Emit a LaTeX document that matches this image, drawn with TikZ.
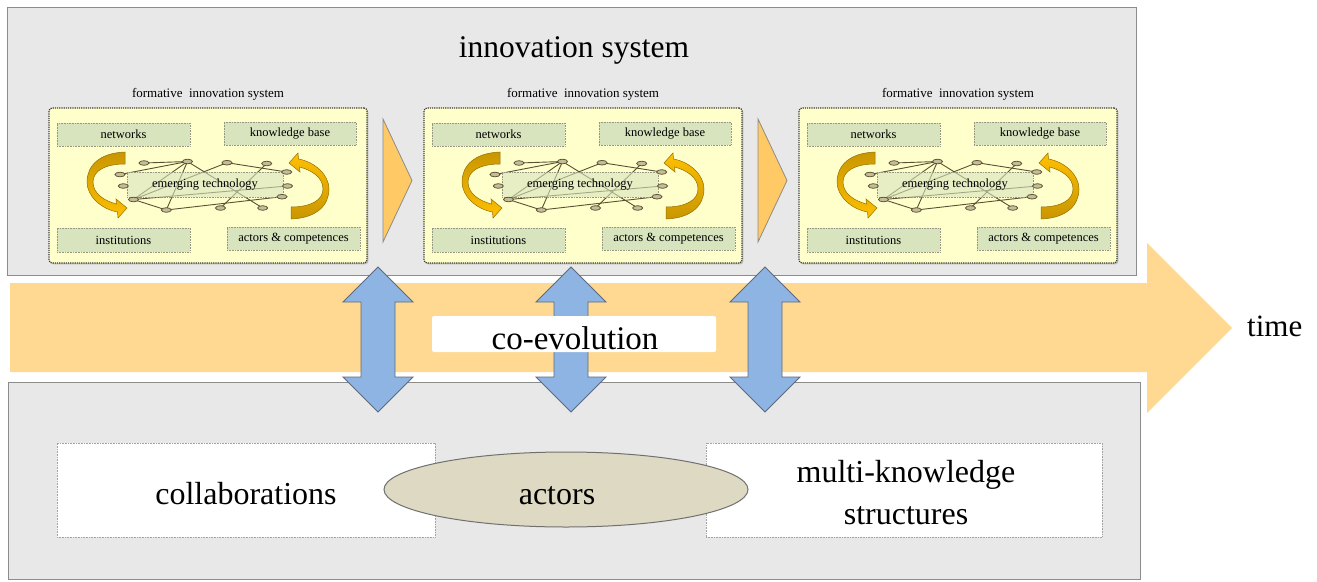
\documentclass[tikz,border=0pt]{standalone}
\usepackage{fontspec}
\setmainfont{Liberation Serif}
\newfontfamily\diagramfont{Liberation Serif}
\usetikzlibrary{shapes.geometric,shadows}

\definecolor{panelgray}{RGB}{232,232,232}
\definecolor{panelline}{RGB}{140,140,140}
\definecolor{timeband}{RGB}{255,217,146}
\definecolor{stagetri}{RGB}{255,201,102}
\definecolor{linkblue}{RGB}{141,180,226}
\definecolor{linkblueline}{RGB}{95,105,125}
\definecolor{fisfill}{RGB}{255,255,204}
\definecolor{fisline}{RGB}{60,60,50}
\definecolor{factorfill}{RGB}{215,228,189}
\definecolor{factorline}{RGB}{150,150,130}
\definecolor{nodefill}{RGB}{196,189,151}
\definecolor{nodeline}{RGB}{95,85,55}
\definecolor{edgecol}{RGB}{90,80,50}
\definecolor{golddark}{RGB}{200,150,0}
\definecolor{goldbright}{RGB}{255,192,0}
\definecolor{goldline}{RGB}{150,110,0}
\definecolor{actorfill}{RGB}{221,217,195}

\newcommand{\fsz}[1]{\diagramfont\fontsize{#1}{#1}\selectfont}

\begin{document}
\begin{tikzpicture}[x=1pt,y=-1pt, font=\diagramfont,
  panel/.style={draw=panelline, fill=panelgray, line width=1pt, inner sep=0},
  fisbox/.style={draw=fisline, densely dotted, line width=1.2pt, fill=fisfill,
    rounded corners=3pt, inner sep=0,
    drop shadow={shadow xshift=1.3pt, shadow yshift=-1.3pt, fill=black!45}},
  factor/.style={draw=factorline, densely dotted, line width=0.6pt, fill=factorfill,
    font=\fsz{12.5}, inner sep=0},
  netnode/.style={ellipse, draw=nodeline, fill=nodefill, line width=0.8pt,
    minimum width=10pt, minimum height=4.6pt, inner sep=0},
  netedge/.style={draw=edgecol, line width=0.9pt},
  turnarrow/.style={draw=goldline, line width=0.5pt},
  stagearrow/.style={fill=stagetri, draw=panelline, line width=0.8pt},
  linkarrow/.style={fill=linkblue, draw=linkblueline, line width=0.8pt, line join=miter},
  bigtext/.style={font=\fsz{32}, inner sep=0},
  whitebox/.style={draw=panelline!80, densely dotted, line width=0.6pt, fill=white, inner sep=0}]

\useasboundingbox (0,0) rectangle (1317,581);

% the two panels
\node[panel, minimum width=1129pt, minimum height=268pt] (upper) at (571.5,141) {};
\node[panel, minimum width=1132pt, minimum height=197pt] (lower) at (574,481) {};
\node[font=\fsz{31.5}, inner sep=0, anchor=base] (uppertitle) at (574,57) {innovation system};

% three formative innovation systems
\foreach \i in {0,1,2}{
  \begin{scope}[shift={(49+375*\i,108)}]
    \node[font=\fsz{13}, inner sep=0, anchor=base] (fistitle\i) at (159,-11) {formative\ \ innovation system};
    \node[fisbox, minimum width=318pt, minimum height=155pt] (fis\i) at (159,77.5) {};
    \node[factor, minimum width=133pt, minimum height=23pt] (networks\i) at (74.5,26.5) {networks};
    \node[factor, minimum width=132pt, minimum height=23pt] (knowledge\i) at (241,25.5) {knowledge base};
    \node[factor, minimum width=133pt, minimum height=24pt] (institutions\i) at (74.5,132) {institutions};
    \node[factor, minimum width=133pt, minimum height=23pt] (competences\i) at (244.5,130.5) {actors \& competences};

    % network of the emerging technology
    \coordinate (p\i-1) at (95,55);
    \coordinate (p\i-2) at (138.5,53.5);
    \coordinate (p\i-3) at (178,54.7);
    \coordinate (p\i-4) at (217.7,55.5);
    \coordinate (p\i-5) at (71,66.5);
    \coordinate (p\i-6) at (237.7,64);
    \coordinate (p\i-7) at (74.3,78);
    \coordinate (p\i-8) at (238.5,78);
    \coordinate (p\i-9) at (233,88.7);
    \coordinate (p\i-10) at (84.5,91.5);
    \coordinate (p\i-11) at (117.3,102);
    \coordinate (p\i-12) at (171.5,100);
    \coordinate (p\i-13) at (213.7,100);
    \foreach \a/\b in {1/2,2/5,2/10,2/11,2/13,3/6,3/10,4/12,10/11,11/9,10/8}
      \draw[netedge] (p\i-\a) -- (p\i-\b);
    \node[factor, fill opacity=0.6, text opacity=1, minimum width=156pt, minimum height=25pt]
      (emerging\i) at (156,76.5) {emerging technology};
    \foreach \k in {1,...,13}
      \node[netnode] (n\i-\k) at (p\i-\k) {};

    % circulating arrows
    \path[turnarrow, top color=golddark, bottom color=goldbright]
      (76,44) .. controls (50,45) and (38,58) .. (38,74)
      .. controls (38,88) and (52,101) .. (68.5,104)
      -- (69,110) -- (78,100) -- (67,91) -- (67.5,96)
      .. controls (56,93) and (44,86) .. (44,74)
      .. controls (44,63) and (56,56) .. (76,56) -- cycle;
    \path[turnarrow, top color=goldbright, bottom color=golddark]
      (242,111) .. controls (268,110) and (280,97) .. (280,81)
      .. controls (280,67) and (266,54) .. (249.5,51)
      -- (249,45) -- (240,55) -- (251,64) -- (250.5,59)
      .. controls (262,62) and (274,69) .. (274,81)
      .. controls (274,92) and (262,99) .. (242,99) -- cycle;
  \end{scope}
}

% stage triangles between the formative systems
\foreach \i in {0,1}{
  \draw[stagearrow] (383+375*\i,119) -- (412+375*\i,180.5) -- (383+375*\i,242) -- cycle;
}

% time arrow
\fill[timeband] (10,283) -- (1147,283) -- (1147,243) -- (1232,328)
  -- (1147,413) -- (1147,372) -- (10,372) -- cycle;
\node[font=\fsz{31}, inner sep=0, anchor=base west] (time) at (1247,336) {time};

% co-evolution links
\foreach \x in {378,571,765}{
  \draw[linkarrow] (\x,267) -- ++(35,35) -- ++(-18,0) -- ++(0,75) -- ++(18,0)
    -- (\x,412) -- ++(-35,-35) -- ++(18,0) -- ++(0,-75) -- ++(-18,0) -- cycle;
}
\node[fill=white, rounded corners=2pt, minimum width=284pt, minimum height=36pt, inner sep=0]
  (coevobox) at (574,334) {};
\node[font=\fsz{33}, inner sep=0, anchor=base] (coevo) at (575,349) {co-evolution};

% lower panel content
\node[whitebox, minimum width=378pt, minimum height=94pt] (collab) at (246,490) {};
\node[whitebox, minimum width=396pt, minimum height=94pt] (multi) at (904,490) {};
\node[ellipse, draw=panelline!80!black, fill=actorfill, line width=1pt,
  minimum width=364pt, minimum height=75pt, inner sep=0] (actors) at (566,489.5) {};
\node[bigtext, anchor=base] (collabtext) at (246,504) {collaborations};
\node[bigtext, anchor=base] (actorstext) at (557,504) {actors};
\node[bigtext, anchor=base] (multitext1) at (906,482) {multi-knowledge};
\node[bigtext, anchor=base] (multitext2) at (906,524) {structures};

\end{tikzpicture}
\end{document}
